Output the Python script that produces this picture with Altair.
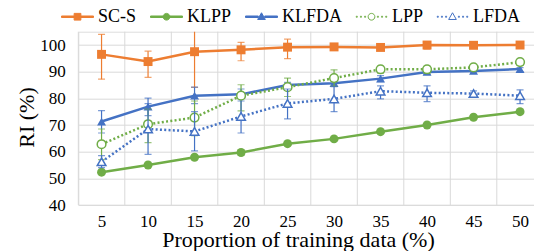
import altair as alt
import pandas as pd

names = ["SC-S", "KLPP", "KLFDA", "LPP", "LFDA"]
x_vals = [5, 10, 15, 20, 25, 30, 35, 40, 45, 50]

scs = [96.5, 93.8, 97.5, 98.2, 99.2, 99.3, 99.1, 100.0, 99.9, 100.0]
scs_lo = [87.2, 87.9, 84.1, 94.1, 94.9, 98.3, 98.4, 98.5, 99.2, 99.2]
scs_hi = [104.0, 97.7, 106.5, 101.0, 102.2, 100.3, 100.0, 101.0, 100.6, 100.8]

klpp = [52.3, 55.0, 57.9, 59.7, 63.0, 64.8, 67.5, 70.0, 72.9, 75.0]
klpp_lo = [51.8, 54.5, 57.3, 58.7, 62.4, 64.3, 67.0, 69.5, 72.4, 74.5]
klpp_hi = [52.8, 55.5, 58.5, 60.5, 63.5, 65.3, 68.0, 70.5, 73.4, 75.5]

klfda = [71.3, 76.9, 81.0, 81.5, 85.0, 85.7, 87.4, 89.9, 90.3, 91.0]
klfda_lo = [67.0, 73.5, 78.0, 80.0, 84.0, 84.5, 86.3, 89.0, 89.5, 90.0]
klfda_hi = [75.4, 80.1, 84.2, 83.5, 86.0, 87.0, 88.5, 91.0, 91.0, 91.5]

lpp = [62.8, 70.3, 72.8, 81.0, 84.2, 87.6, 90.9, 90.9, 91.6, 93.6]
lpp_lo = [57.0, 63.4, 66.0, 75.3, 80.7, 84.5, 89.5, 89.5, 90.5, 92.5]
lpp_hi = [68.5, 76.0, 79.0, 85.1, 87.6, 90.7, 92.0, 92.0, 92.5, 94.5]

lfda = [56.2, 68.5, 67.6, 73.2, 78.1, 79.8, 82.7, 82.1, 81.8, 81.0]
lfda_lo = [54.0, 59.0, 60.3, 67.0, 72.3, 75.0, 79.8, 78.8, 80.7, 78.0]
lfda_hi = [58.5, 78.0, 75.0, 79.0, 83.5, 84.4, 84.7, 84.7, 82.8, 83.2]

grid_x = [2.5, 7.5, 12.5, 17.5, 22.5, 27.5, 32.5, 37.5, 42.5, 47.5]
y_ticks = [40, 50, 60, 70, 80, 90, 100]

series = {
    "SC-S": (scs, scs_lo, scs_hi),
    "KLPP": (klpp, klpp_lo, klpp_hi),
    "KLFDA": (klfda, klfda_lo, klfda_hi),
    "LPP": (lpp, lpp_lo, lpp_hi),
    "LFDA": (lfda, lfda_lo, lfda_hi),
}

rows = []
for n in names:
    m, lo, hi = series[n]
    for i, xv in enumerate(x_vals):
        rows.append({"series": n, "x": xv, "y": m[i], "lo": lo[i], "hi": hi[i]})
df = pd.DataFrame(rows)

ORANGE = "#ED7D31"
GREEN = "#70AD47"
BLUE = "#4472C4"
FONT = "Liberation Serif"

style = {
    "SC-S": dict(color=ORANGE, shape="square", filled=True, dash=None),
    "KLPP": dict(color=GREEN, shape="circle", filled=True, dash=None),
    "KLFDA": dict(color=BLUE, shape="triangle-up", filled=True, dash=None),
    "LPP": dict(color=GREEN, shape="circle", filled=False, dash=[2, 2.3]),
    "LFDA": dict(color=BLUE, shape="triangle-up", filled=False, dash=[2, 2.3]),
}

xscale = alt.Scale(domain=[2.5, 51.5], nice=False, zero=False)
yscale = alt.Scale(domain=[40, 105], nice=False, zero=False)

XAX = alt.Axis(
    values=x_vals, grid=False, ticks=False, domain=False, labelOverlap=False,
    labelFont=FONT, labelFontSize=17, labelColor="#000", labelPadding=8,
    title="Proportion of training data (%)", titleFont=FONT, titleFontSize=22,
    titleFontWeight="normal", titleColor="#000", titleBaseline="alphabetic",
    titleX=219.7, titleY=41)
YAX = alt.Axis(
    values=y_ticks, grid=True, gridColor="#d9d9d9", ticks=False, domain=False,
    labelOverlap=False,
    labelFont=FONT, labelFontSize=17, labelColor="#000", labelPadding=13,
    title="RI (%)", titleFont=FONT, titleFontSize=22, titleFontWeight="normal",
    titleColor="#000", titleBaseline="alphabetic", titleAngle=270,
    titleAlign="center", titleX=-45.3, titleY=85.3)

X = alt.X("x:Q", scale=xscale, axis=XAX)
Y = alt.Y("y:Q", scale=yscale, axis=YAX)
Ylo = alt.Y("lo:Q", scale=yscale, axis=YAX)
Yhi = alt.Y("hi:Q", scale=yscale, axis=YAX)

grid = alt.Chart(pd.DataFrame({"gx": grid_x})).mark_rule(
    color="#d9d9d9", strokeWidth=1).encode(x=alt.X("gx:Q", scale=xscale, axis=XAX))

layers = [grid]
for n in names:
    st = style[n]
    base = alt.Chart(df).transform_filter(alt.datum.series == n)
    err = base.mark_rule(color=st["color"], strokeWidth=1.2, clip=True).encode(
        x=X, y=Ylo, y2="hi:Q")
    cap_lo = base.mark_tick(color=st["color"], orient="horizontal", size=7,
                            thickness=1.2, clip=True).encode(x=X, y=Ylo)
    cap_hi = base.mark_tick(color=st["color"], orient="horizontal", size=7,
                            thickness=1.2, clip=True).encode(x=X, y=Yhi)
    line_kw = dict(color=st["color"], strokeWidth=2.5)
    if st["dash"]:
        line_kw["strokeDash"] = st["dash"]
    line = base.mark_line(**line_kw).encode(x=X, y=Y)
    if st["filled"]:
        pts = base.mark_point(shape=st["shape"], filled=True, size=80,
                              color=st["color"], opacity=1).encode(x=X, y=Y)
    else:
        pts = base.mark_point(shape=st["shape"], filled=False, size=75,
                              stroke=st["color"], fill="white", fillOpacity=1,
                              strokeWidth=1.5, opacity=1).encode(x=X, y=Y)
    layers += [err, cap_lo, cap_hi, line, pts]


# legend symbol paths (unit box)
def rect(x0, x1, h):
    return f"M{x0},{-h}H{x1}V{h}H{x0}Z"


def dots(xs, s=0.032):
    return "".join(f"M{c - s},{-s}H{c + s}V{s}H{c - s}Z" for c in xs)


def circ(r):
    return f"M{-r},0A{r},{r} 0 1,1 {r},0A{r},{r} 0 1,1 {-r},0Z"


tri = "M0,-0.25L0.24,0.17L-0.24,0.17Z"
sq = rect(-0.21, 0.21, 0.21)
solid = rect(-1, -0.2, 0.047) + rect(0.2, 1, 0.047)
dotted = dots([-0.92, -0.66, -0.4]) + dots([0.4, 0.66, 0.92])
paths = [
    solid + sq,
    rect(-1, -0.18, 0.047) + rect(0.18, 1, 0.047) + circ(0.21),
    rect(-1, -0.2, 0.047) + rect(0.2, 1, 0.047) + tri,
    dotted + circ(0.21),
    dotted + tri,
]
leg = alt.Legend(orient="none", legendX=-17.3, legendY=-31.7, direction="horizontal",
                 title=None, labelFont=FONT, labelFontSize=18, labelColor="#000",
                 labelOffset=4, columnPadding=11, symbolSize=1024,
                 symbolStrokeWidth=1, symbolOpacity=1, padding=0)
legdf = pd.DataFrame({"series": names})
legend_layer = alt.Chart(legdf).mark_point(opacity=0, filled=False).encode(
    x=alt.value(0), y=alt.value(0),
    shape=alt.Shape("series:N", scale=alt.Scale(domain=names, range=paths), legend=leg),
    fill=alt.Fill("series:N", scale=alt.Scale(domain=names,
                  range=[ORANGE, GREEN, BLUE, "white", "white"]), legend=leg),
    stroke=alt.Stroke("series:N", scale=alt.Scale(domain=names,
                      range=[ORANGE, GREEN, BLUE, GREEN, BLUE]), legend=leg),
)
layers.append(legend_layer)

chart = alt.layer(*layers).properties(
    width=455.7, height=173.3,
    autosize=alt.AutoSizeParams(type="none"),
    padding={"left": 70.3, "top": 23.7, "right": 0, "bottom": 46},
).configure_view(stroke=None).configure(background="white").configure_legend(
    labelFont=FONT)

chart.save("out.html", embed_options={"renderer": "svg", "actions": False})
